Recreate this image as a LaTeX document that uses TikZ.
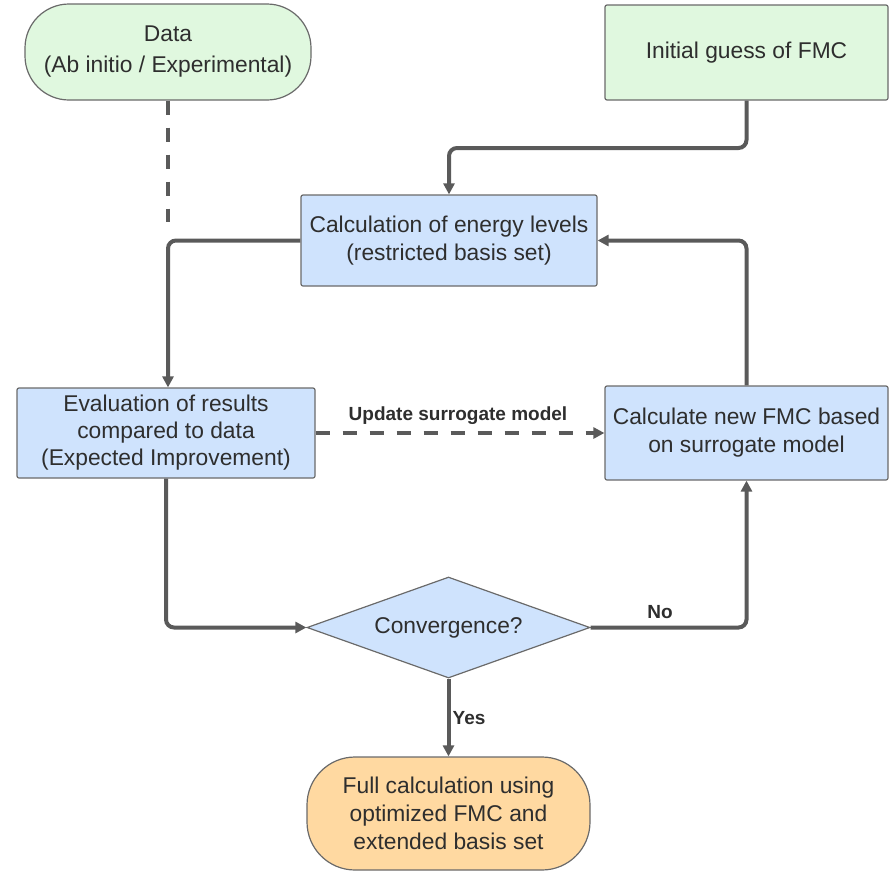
\documentclass[tikz,border=0pt]{standalone}
\usepackage{fontspec}
\setmainfont{Liberation Sans}
\usetikzlibrary{arrows.meta,shapes.geometric}
\definecolor{gfill}{HTML}{E0F8DF}
\definecolor{bfill}{HTML}{CFE3FD}
\definecolor{ofill}{HTML}{FFD9A1}
\definecolor{bord}{HTML}{6A6A6A}
\definecolor{linec}{HTML}{5A5A5A}
\definecolor{txt}{HTML}{2E2E2E}
\tikzset{
  box/.style={draw=bord, line width=1.2pt, rounded corners=2pt, align=center, text=txt,
    font=\fontsize{22.8}{28}\selectfont, inner sep=0pt},
  gbox/.style={box, fill=gfill},
  bbox/.style={box, fill=bfill},
  stadium/.style={draw=bord, line width=1.2pt, align=center, text=txt,
    font=\fontsize{22.8}{28}\selectfont, rounded corners=44pt, inner sep=0pt},
  conn/.style={draw=linec, line width=4pt, rounded corners=8pt,
    -{Triangle[length=11pt,width=11pt]}},
  dconn/.style={draw=linec, line width=4pt, dash pattern=on 14pt off 13pt},
  lbl/.style={font=\bfseries\fontsize{19}{22}\selectfont, text=txt},
}
\begin{document}
\begin{tikzpicture}[x=1pt,y=-1pt]
\useasboundingbox (0,0) rectangle (889,873);
% nodes
\node[stadium, fill=gfill, minimum width=286pt, minimum height=96pt] (data) at (168,52) {Data\\[3pt](Ab initio / Experimental)};
\node[gbox, minimum width=283pt, minimum height=95pt] (init) at (746.5,52.5) {Initial guess of FMC};
\node[bbox, minimum width=296pt, minimum height=91pt] (calc) at (449,240.5) {Calculation of energy levels\\(restricted basis set)};
\node[bbox, minimum width=298pt, minimum height=90pt] (eval) at (166,433) {Evaluation of results\\[-1pt]compared to data\\[-1pt](Expected Improvement)};
\node[bbox, minimum width=283pt, minimum height=94pt] (newfmc) at (746.5,433) {Calculate new FMC based\\on surrogate model};
\node[draw=bord, line width=1.2pt, fill=bfill, diamond, aspect=2.8, inner sep=0pt,
  minimum width=283pt, minimum height=101pt, text=txt, font=\fontsize{22.8}{28}\selectfont] (conv) at (448.5,627.5) {Convergence?};
\node[stadium, fill=ofill, minimum width=283pt, minimum height=113pt, rounded corners=48pt] (full) at (448.5,813.5) {Full calculation using\\optimized FMC and\\extended basis set};
% connectors
\coordinate (j1) at (168,240);
\draw[dconn] (data.south) -- (168,222);
\draw[conn] (init.south) |- (449,148) -- (calc.north);
\draw[conn] (calc.west) -| (eval.north -| j1);
\draw[conn] (eval.south) |- (conv.west);
\draw[conn] (conv.east) -| (newfmc.south);
\draw[conn] (newfmc.north) |- (calc.east);
\draw[conn] (conv.south) -- (full.north);
\draw[dconn, -{Triangle[length=11pt,width=11pt]}] (eval.east) -- (newfmc.west);
% labels
\node[lbl] (lupd) at (458,416) {Update surrogate model};
\node[lbl] (lno) at (660,612) {No};
\node[lbl] (lyes) at (469,718) {Yes};
\end{tikzpicture}
\end{document}
